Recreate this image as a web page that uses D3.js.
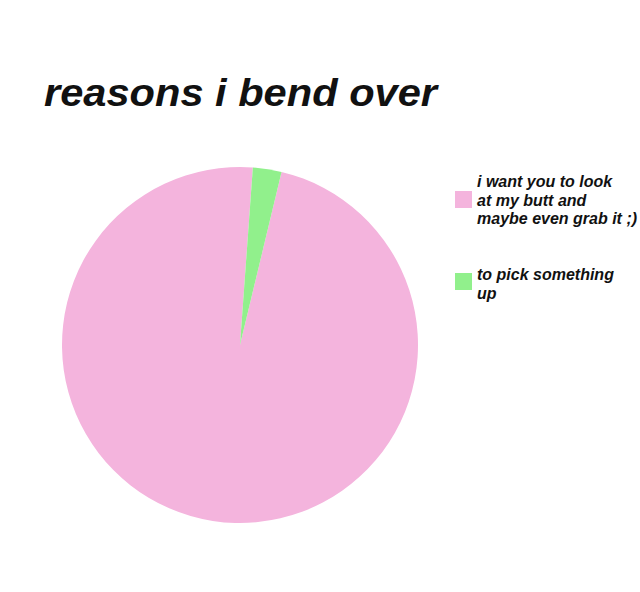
<!DOCTYPE html>
<html>
<head>
<meta charset="utf-8">
<script src="https://cdn.jsdelivr.net/npm/d3@7"></script>
<style>
  body { margin: 0; background: #fff; }
  text { font-family: "Liberation Sans", Arial, sans-serif; font-weight: bold; font-style: italic; fill: #111; }
</style>
</head>
<body>
<div id="chart"></div>
<script>
// Chart data
var categories = ["i want you to look at my butt and maybe even grab it ;)", "to pick something up"];
var values = [97.4, 2.6];
var legendLines = [
  ["i want you to look", "at my butt and", "maybe even grab it ;)"],
  ["to pick something", "up"]
];
var colors = ["#f4b4dd", "#91f08c"];

var svgWidth = 640;
var svgHeight = 592;

var svg = d3.select("#chart")
  .append("svg")
  .attr("width", svgWidth)
  .attr("height", svgHeight);

// Title
svg.append("text")
  .attr("x", 44)
  .attr("y", 106)
  .attr("textLength", 393)
  .attr("lengthAdjust", "spacingAndGlyphs")
  .style("font-size", "39px")
  .text("reasons i bend over");

// Pie
var radius = 178;
var pieGroup = svg.append("g")
  .attr("transform", "translate(240, 345)");

var pie = d3.pie()
  .sort(null)
  .startAngle(13.5 * Math.PI / 180)
  .endAngle(13.5 * Math.PI / 180 + 2 * Math.PI);

var arc = d3.arc()
  .innerRadius(0)
  .outerRadius(radius);

pieGroup.selectAll("path")
  .data(pie(values))
  .enter()
  .append("path")
  .attr("d", arc)
  .attr("fill", (d, i) => colors[i]);

// Legend
var rectY = [191, 273];
var textY = [187, 280];

var legend = svg.selectAll(".legend")
  .data(categories)
  .enter()
  .append("g")
  .attr("class", "legend");

legend.append("rect")
  .attr("x", 455)
  .attr("y", (d, i) => rectY[i])
  .attr("width", 17)
  .attr("height", 17)
  .attr("fill", (d, i) => colors[i]);

legend.append("text")
  .style("font-size", "16px")
  .selectAll("tspan")
  .data((d, i) => legendLines[i].map(t => ({ t: t, y: textY[i] })))
  .enter()
  .append("tspan")
  .attr("x", 477)
  .attr("y", (d, j) => d.y + j * 18.5)
  .text(d => d.t);
</script>
</body>
</html>
